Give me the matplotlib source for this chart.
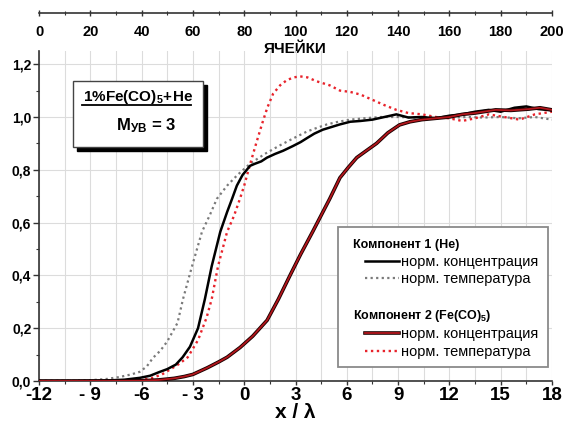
import numpy as np
import matplotlib
matplotlib.use('Agg')
import matplotlib.pyplot as plt
from matplotlib.lines import Line2D
from matplotlib.patches import Rectangle
import matplotlib.patheffects as pe
import matplotlib.transforms as mtransforms
from matplotlib.ticker import MultipleLocator

plt.rcParams['font.family'] = ['Liberation Sans', 'DejaVu Sans']
plt.rcParams['mathtext.fontset'] = 'custom'
plt.rcParams['mathtext.rm'] = 'Liberation Sans'
plt.rcParams['mathtext.bf'] = 'Liberation Sans:bold'
plt.rcParams['mathtext.it'] = 'Liberation Sans:italic'

# ---------------- data (x in units of lambda) ----------------
he_conc_x = [-12, -10, -8, -7, -6.1, -5.5, -5.0, -4.5, -4.0, -3.6, -3.17, -2.7, -2.3, -1.9, -1.4,
             -1.0, -0.71, -0.43, -0.1, 0.34, 0.63, 1.0, 1.33, 1.8, 2.27, 2.85, 3.3, 3.67, 4.1, 4.6,
             5.1, 5.6, 6.2, 6.8, 7.5, 8.2, 8.9, 9.6, 10.4, 11.2, 12.0, 12.75, 13.5, 14.3, 15.0,
             15.8, 16.5, 17.2, 18.0]
he_conc_y = [0, 0, 0.002, 0.005, 0.012, 0.02, 0.033, 0.045, 0.062, 0.09, 0.13, 0.2, 0.31, 0.435, 0.565,
             0.64, 0.69, 0.74, 0.78, 0.815, 0.823, 0.832, 0.846, 0.86, 0.872, 0.89, 0.905, 0.92, 0.937, 0.952,
             0.962, 0.972, 0.982, 0.985, 0.99, 1.0, 1.01, 0.998, 1.0, 0.995, 1.005, 1.01, 1.02, 1.027, 1.02,
             1.035, 1.04, 1.03, 1.025]

he_temp_x = [-12, -10, -9, -8, -7.3, -6.6, -6.1, -5.7, -5.33, -4.9, -4.5, -3.9, -3.58, -3.05, -2.47,
             -2.0, -1.6, -1.0, -0.4, 0.34, 1.2, 2.1, 2.9, 3.67, 4.3, 4.84, 5.5, 6.2, 7.0, 8.0,
             9.0, 10, 11, 12, 13, 14, 15, 16, 17, 18]
he_temp_y = [0, 0.001, 0.003, 0.008, 0.015, 0.025, 0.035, 0.055, 0.088, 0.115, 0.15, 0.22, 0.31, 0.435, 0.565,
             0.63, 0.69, 0.74, 0.78, 0.823, 0.86, 0.893, 0.92, 0.945, 0.96, 0.972, 0.982, 0.99, 0.995, 1.0,
             1.0, 0.998, 1.0, 0.997, 1.0, 0.998, 1.0, 0.995, 1.0, 0.99]

fe_temp_x = [-12, -9, -7, -6, -5.45, -4.8, -4.3, -3.8, -3.3, -2.7, -2.2, -1.9, -1.53, -1.0, -0.6,
             -0.25, 0.0, 0.34, 0.7, 1.04, 1.35, 1.69, 2.1, 2.5, 2.9, 3.26, 3.7, 4.25, 5.0, 5.6,
             6.2, 6.8, 7.5, 8.2, 8.9, 9.6, 10.4, 11.2, 12.0, 12.75, 13.5, 14.3, 15.2, 16.1, 17.0,
             17.5, 18.0]
fe_temp_y = [0, 0, 0.001, 0.004, 0.01, 0.025, 0.045, 0.065, 0.09, 0.155, 0.24, 0.31, 0.435, 0.565, 0.625,
             0.69, 0.74, 0.82, 0.9, 0.973, 1.035, 1.088, 1.12, 1.14, 1.15, 1.154, 1.15, 1.135, 1.12, 1.10,
             1.095, 1.085, 1.065, 1.045, 1.027, 1.015, 1.01, 1.0, 0.995, 0.985, 0.995, 1.01, 1.0, 0.99, 1.01,
             1.015, 1.02]

fe_conc_x = [-12, -8, -6, -5, -4.1, -3.5, -3.0, -2.16, -1.5, -1.0, -0.24, 0.5, 1.34, 2.0, 2.68,
             3.3, 4.0, 4.6, 5.0, 5.6, 6.1, 6.58, 7.2, 7.74, 8.4, 9.08, 9.7, 10.4, 11.2, 12.0,
             12.75, 13.5, 14.7, 15.6, 16.65, 17.3, 18.0]
fe_conc_y = [0, 0, 0.001, 0.004, 0.01, 0.017, 0.025, 0.05, 0.072, 0.09, 0.127, 0.17, 0.23, 0.31, 0.40,
             0.48, 0.565, 0.64, 0.69, 0.77, 0.81, 0.846, 0.875, 0.90, 0.94, 0.97, 0.982, 0.99, 0.995, 1.0,
             1.01, 1.015, 1.027, 1.025, 1.03, 1.035, 1.027]

x_ticks = [-12, -9, -6, -3, 0, 3, 6, 9, 12, 15, 18]
x_ticklabels = ['-12', '- 9', '-6', '- 3', '0', '3', '6', '9', '12', '15', '18']
y_ticks = [0.0, 0.2, 0.4, 0.6, 0.8, 1.0, 1.2]
y_ticklabels = ['0,0', '0,2', '0,4', '0,6', '0,8', '1,0', '1,2']
cell_ticks = list(range(0, 201, 20))
cell_ticklabels = [str(c) for c in cell_ticks]

legend_labels = ['Компонент 1 (He)', 'норм. концентрация', 'норм. температура', ' ',
                 'Компонент 2 (Fe(CO)$_{\\mathbf{5}}$)', 'норм. концентрация', 'норм. температура']

# ---------------- figure ----------------
fig = plt.figure(figsize=(5.65, 4.25), dpi=100)
ax = fig.add_axes([39/565, 44/425, 513/565, 330/425])

col_gray = '#7a7a7a'
col_red_dot = '#e8232b'
col_red = '#b3161c'

ax.plot(he_temp_x, he_temp_y, color=col_gray, lw=1.6, ls=(0, (1, 1.5)), zorder=3)
ax.plot(fe_temp_x, fe_temp_y, color=col_red_dot, lw=1.7, ls=(0, (1, 1.5)), zorder=3)
ax.plot(he_conc_x, he_conc_y, color='black', lw=1.8, zorder=4)
red_pe = [pe.Stroke(linewidth=2.6, foreground='#1a0000'), pe.Normal()]
ax.plot(fe_conc_x, fe_conc_y, color=col_red, lw=1.3, zorder=5, path_effects=red_pe)

ax.set_xlim(-12, 18)
ax.set_ylim(0, 1.25)

ax.set_xticks(x_ticks)
ax.set_xticklabels(x_ticklabels, fontsize=13.5, fontweight='bold')
ax.xaxis.set_minor_locator(MultipleLocator(1.5))
ax.set_yticks(y_ticks)
ax.set_yticklabels(y_ticklabels, fontsize=10, fontweight='bold')
ax.yaxis.set_minor_locator(MultipleLocator(0.1))

ax.tick_params(axis='x', which='major', direction='out', length=3, width=1.0, pad=1.0, color='#333333')
ax.tick_params(axis='x', which='minor', direction='out', length=2.5, width=0.8, color='#333333')
ax.tick_params(axis='y', which='major', direction='out', length=4, width=1.0, pad=1.5, color='#333333')
ax.tick_params(axis='y', which='minor', direction='out', length=2.5, width=0.8, color='#333333')

for s in ['top', 'right']:
    ax.spines[s].set_visible(False)
for s in ['left', 'bottom']:
    ax.spines[s].set_color('#333333')
    ax.spines[s].set_linewidth(1.2)

ax.grid(True, which='both', axis='x', color='#dcdcdc', lw=0.8, zorder=0)
ax.grid(True, which='major', axis='y', color='#dcdcdc', lw=0.8, zorder=0)
ax.set_axisbelow(True)

ax.set_xlabel('x / λ', fontsize=15, fontweight='bold')
ax.xaxis.set_label_coords(0.5, -0.066)

# top axis in cells
secax = ax.secondary_xaxis(1 + 38/330, functions=(lambda x: (np.asarray(x) + 12) / 0.15,
                                                    lambda c: np.asarray(c) * 0.15 - 12))
secax.set_alignment('bottom')
secax.set_xticks(cell_ticks)
secax.set_xticklabels(cell_ticklabels, fontsize=10.5, fontweight='bold')
secax.xaxis.set_minor_locator(MultipleLocator(10))
secax.tick_params(which='major', direction='inout', length=5, width=1.0, pad=6, color='#333333')
secax.tick_params(which='minor', direction='inout', length=3.5, width=0.8, color='#333333')
secax.spines['bottom'].set_color('#333333')
secax.spines['bottom'].set_linewidth(1.2)
secax.set_xlabel('ЯЧЕЙКИ', fontsize=11, fontweight='bold', labelpad=2)

# ---------------- annotation box ----------------
bx0, bx1 = (73-39)/513, (203-39)/513
by0, by1 = (381-147)/330, (381-81)/330
shadow = Rectangle((bx0 + 4/513, by0 - 4/330), bx1-bx0, by1-by0, transform=ax.transAxes,
                   facecolor='black', edgecolor='black', zorder=6)
box = Rectangle((bx0, by0), bx1-bx0, by1-by0, transform=ax.transAxes,
                facecolor='white', edgecolor='#444444', lw=1.0, zorder=7)
ax.add_patch(shadow)
ax.add_patch(box)
cx = (bx0 + bx1) / 2
ax.text(cx, (381-97)/330, r'$\mathbf{1\%Fe(CO)_{5}\!+\!He}$', transform=ax.transAxes,
        ha='center', va='center', fontsize=11, zorder=8)
ax.add_line(Line2D([(82-39)/513, (191-39)/513], [(381-105)/330]*2, transform=ax.transAxes,
                   color='black', lw=1.3, zorder=8))
ax.text((146-39)/513, (381-126)/330, r'$\mathbf{M_{УВ}\,=\,3}$', transform=ax.transAxes,
        ha='center', va='center', fontsize=12, zorder=8)

# ---------------- legend ----------------
lx0, lx1 = (338-39)/513, (548-39)/513
ly0, ly1 = (381-367)/330, (381-227)/330
ax.add_patch(Rectangle((lx0, ly0), lx1-lx0, ly1-ly0, transform=ax.transAxes,
                       facecolor='white', edgecolor='#8a8a8a', lw=1.3, zorder=6))
blank = Line2D([], [], color='none')
handles = [blank,
           Line2D([], [], color='black', lw=1.8),
           Line2D([], [], color=col_gray, lw=1.6, ls=(0, (1, 1.5))),
           blank,
           blank,
           Line2D([], [], color=col_red, lw=1.3, path_effects=red_pe),
           Line2D([], [], color=col_red_dot, lw=1.7, ls=(0, (1, 1.5)))]
leg = ax.legend(handles, legend_labels, loc='upper left',
                bbox_to_anchor=((365-39)/513, (381-238)/330), borderaxespad=0, borderpad=0,
                frameon=False, fontsize=10.5, handlelength=2.3, handletextpad=0.15,
                labelspacing=0.25)
leg.set_zorder(8)
texts = leg.get_texts()
for i in (0, 4):
    texts[i].set_fontweight('bold')
    texts[i].set_fontsize(9)
    texts[i].set_transform(texts[i].get_transform() + mtransforms.Affine2D().translate(-48, 0))

fig.savefig('out.png', dpi=100)
